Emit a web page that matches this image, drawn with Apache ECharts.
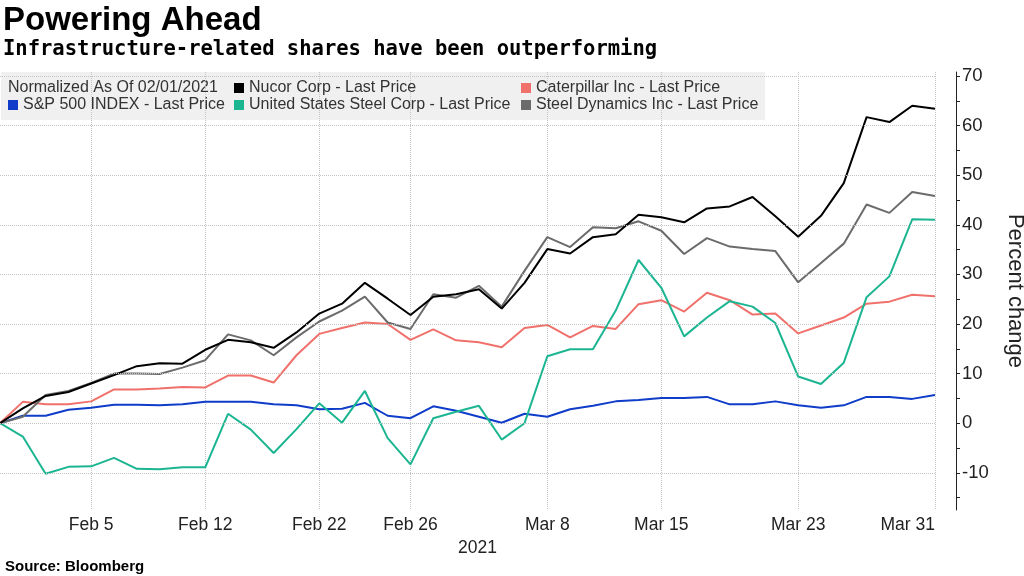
<!DOCTYPE html>
<html>
<head>
<meta charset="utf-8">
<script src="https://cdn.jsdelivr.net/npm/echarts@6/dist/echarts.min.js"></script>
<style>
html,body{margin:0;padding:0;background:#fff;}
#chart{width:1024px;height:576px;}
</style>
</head>
<body>
<div id="chart"></div>
<script>
// ---- data ----
const dates = ["Feb 1","Feb 2","Feb 3","Feb 4","Feb 5","Feb 8","Feb 9","Feb 10","Feb 11","Feb 12",
  "Feb 16","Feb 17","Feb 18","Feb 19","Feb 22","Feb 23","Feb 24","Feb 25","Feb 26",
  "Mar 1","Mar 2","Mar 3","Mar 4","Mar 5","Mar 8","Mar 9","Mar 10","Mar 11","Mar 12",
  "Mar 15","Mar 16","Mar 17","Mar 18","Mar 19","Mar 22","Mar 23","Mar 24","Mar 25","Mar 26",
  "Mar 29","Mar 30","Mar 31"];
const xTickLabels = ["Feb 5","Feb 12","Feb 22","Feb 26","Mar 8","Mar 15","Mar 23","Mar 31"];
const yTickValues = [-15,-10,-5,0,5,10,15,20,25,30,35,40,45,50,55,60,65,70];
const yLabelValues = [-10,0,10,20,30,40,50,60,70];

const nucor = [0,3.0,5.5,6.3,8.0,9.7,11.5,12.1,12.0,14.8,
  16.8,16.3,15.2,18.3,22.1,24.1,28.3,25.1,21.8,25.5,
  26.0,27.0,23.1,28.3,35.1,34.2,37.5,38.1,42.0,41.5,
  40.5,43.3,43.7,45.6,41.7,37.6,41.8,48.4,61.7,60.7,64.0,63.4];
const caterpillar = [0,4.3,3.8,3.8,4.4,6.8,6.8,7.0,7.3,7.2,
  9.6,9.6,8.2,13.7,18.0,19.2,20.3,20.0,16.8,18.9,
  16.7,16.3,15.3,19.2,19.8,17.3,19.6,19.0,24.0,24.8,
  22.5,26.3,24.8,21.9,22.1,18.1,19.7,21.3,24.1,24.5,25.9,25.6];
const spx = [0,1.5,1.5,2.7,3.1,3.7,3.7,3.6,3.8,4.3,
  4.3,4.3,3.8,3.6,2.8,2.9,4.1,1.5,1.0,3.4,
  2.5,1.3,0.1,1.9,1.3,2.8,3.5,4.4,4.7,5.1,
  5.1,5.3,3.8,3.8,4.4,3.6,3.1,3.6,5.3,5.3,4.9,5.7];
const usSteel = [0,-2.7,-10.2,-8.8,-8.7,-7.0,-9.2,-9.3,-8.9,-8.9,
  1.9,-1.3,-6.0,-1.2,4.0,0.1,6.5,-3.0,-8.3,1.0,
  2.3,3.5,-3.3,0,13.5,14.9,14.9,22.7,32.9,27.3,
  17.5,21.3,24.6,23.5,20.2,9.4,7.9,12.2,25.4,29.6,41.1,41.0];
const steelDynamics = [0,1.3,5.7,6.5,8.1,10.0,10.0,9.9,11.2,12.7,
  17.9,16.7,13.7,17.3,20.5,22.7,25.5,20.3,19.0,26.0,
  25.3,27.7,23.5,30.7,37.5,35.5,39.5,39.3,40.7,38.8,
  34.1,37.3,35.6,35.1,34.7,28.4,32.3,36.2,44.1,42.4,46.6,45.8];

const names = {
  nucor: "Nucor Corp - Last Price",
  cat: "Caterpillar Inc - Last Price",
  spx: "S&P 500 INDEX - Last Price",
  x: "United States Steel Corp - Last Price",
  stld: "Steel Dynamics Inc - Last Price"
};
const colors = {nucor:'#000000', cat:'#f0716b', spx:'#0f3cc8', x:'#1cb592', stld:'#6b6b6b'};

const FONT = "'Liberation Sans', Arial, sans-serif";
const chart = echarts.init(document.getElementById('chart'), null, {renderer:'canvas'});

function lineSeries(name, data, color) {
  return {
    name: name, type: 'line', data: data, symbol: 'none', smooth: false,
    lineStyle: {color: color, width: 2}, itemStyle: {color: color},
    emphasis: {disabled: true}, z: 3
  };
}
const legendCommon = {
  orient: 'vertical', padding: 0, itemGap: 1, itemWidth: 10, itemHeight: 10,
  icon: 'rect', selectedMode: false,
  textStyle: {fontFamily: FONT, fontSize: 16, color: '#333'}
};

chart.setOption({
  animation: false,
  backgroundColor: '#ffffff',
  grid: {left: 0, right: 89, top: 72, bottom: 66, containLabel: false, outerBoundsMode: 'none'},
  graphic: [
    {type: 'text', left: 3, top: 4, style: {text: 'Powering Ahead', font: "bold 33px 'Liberation Sans', Arial, sans-serif", fill: '#000'}},
    {type: 'text', left: 3, top: 39, style: {text: 'Infrastructure-related shares have been outperforming', font: "bold 20.5px 'DejaVu Sans Mono', monospace", fill: '#000'}},
    {type: 'rect', left: 1, top: 72, shape: {width: 764, height: 48}, style: {fill: '#f0f0f0'}, z: -1},
    {type: 'text', left: 8, top: 80, style: {text: 'Normalized As Of 02/01/2021', font: "16px 'Liberation Sans', Arial, sans-serif", fill: '#333'}},
    {type: 'text', left: 5, top: 559, style: {text: 'Source: Bloomberg', font: "bold 15px 'Liberation Sans', Arial, sans-serif", fill: '#000'}}
  ],
  legend: [
    Object.assign({left: 8, top: 97, data: [names.spx]}, legendCommon),
    Object.assign({left: 234, top: 80, data: [names.nucor, names.x]}, legendCommon),
    Object.assign({left: 521, top: 80, data: [names.cat, names.stld]}, legendCommon)
  ],
  xAxis: {
    type: 'category', data: dates, boundaryGap: false,
    axisLine: {show: false}, axisTick: {show: false},
    axisLabel: {
      interval: function (i, v) { return xTickLabels.indexOf(v) >= 0; },
      alignMaxLabel: 'right',
      fontFamily: FONT, fontSize: 17.5, color: '#222', margin: 6
    },
    splitLine: {
      show: true,
      interval: function (i, v) { return xTickLabels.indexOf(v) >= 0; },
      lineStyle: {type: 'dotted', color: '#c4c4c4', width: 1}
    },
    name: '2021', nameLocation: 'middle', nameGap: 27,
    nameTextStyle: {fontFamily: FONT, fontSize: 17.5, color: '#222', padding: [0, 0, 0, 20]}
  },
  yAxis: {
    type: 'value', position: 'right', offset: 21, min: -17.5, max: 70.8,
    axisLine: {show: true, lineStyle: {color: '#222', width: 1}},
    axisTick: {show: true, length: 4, customValues: yTickValues, lineStyle: {color: '#222'}},
    axisLabel: {customValues: yLabelValues, margin: 6, fontFamily: FONT, fontSize: 18.5, color: '#222'},
    splitLine: {show: false},
    name: 'Percent change', nameLocation: 'middle', nameRotate: -90, nameGap: 48,
    nameTextStyle: {fontFamily: FONT, fontSize: 22, color: '#222'}
  },
  series: [
    {
      name: 'grid', type: 'line', data: [], z: 1, silent: true,
      markLine: {
        silent: true, symbol: ['none', 'none'], label: {show: false},
        lineStyle: {type: 'dotted', color: '#c4c4c4', width: 1},
        emphasis: {disabled: true},
        data: yLabelValues.map(function (v) { return {yAxis: v}; })
      }
    },
    lineSeries(names.spx, spx, colors.spx),
    lineSeries(names.cat, caterpillar, colors.cat),
    lineSeries(names.x, usSteel, colors.x),
    lineSeries(names.stld, steelDynamics, colors.stld),
    lineSeries(names.nucor, nucor, colors.nucor)
  ]
});
</script>
</body>
</html>
